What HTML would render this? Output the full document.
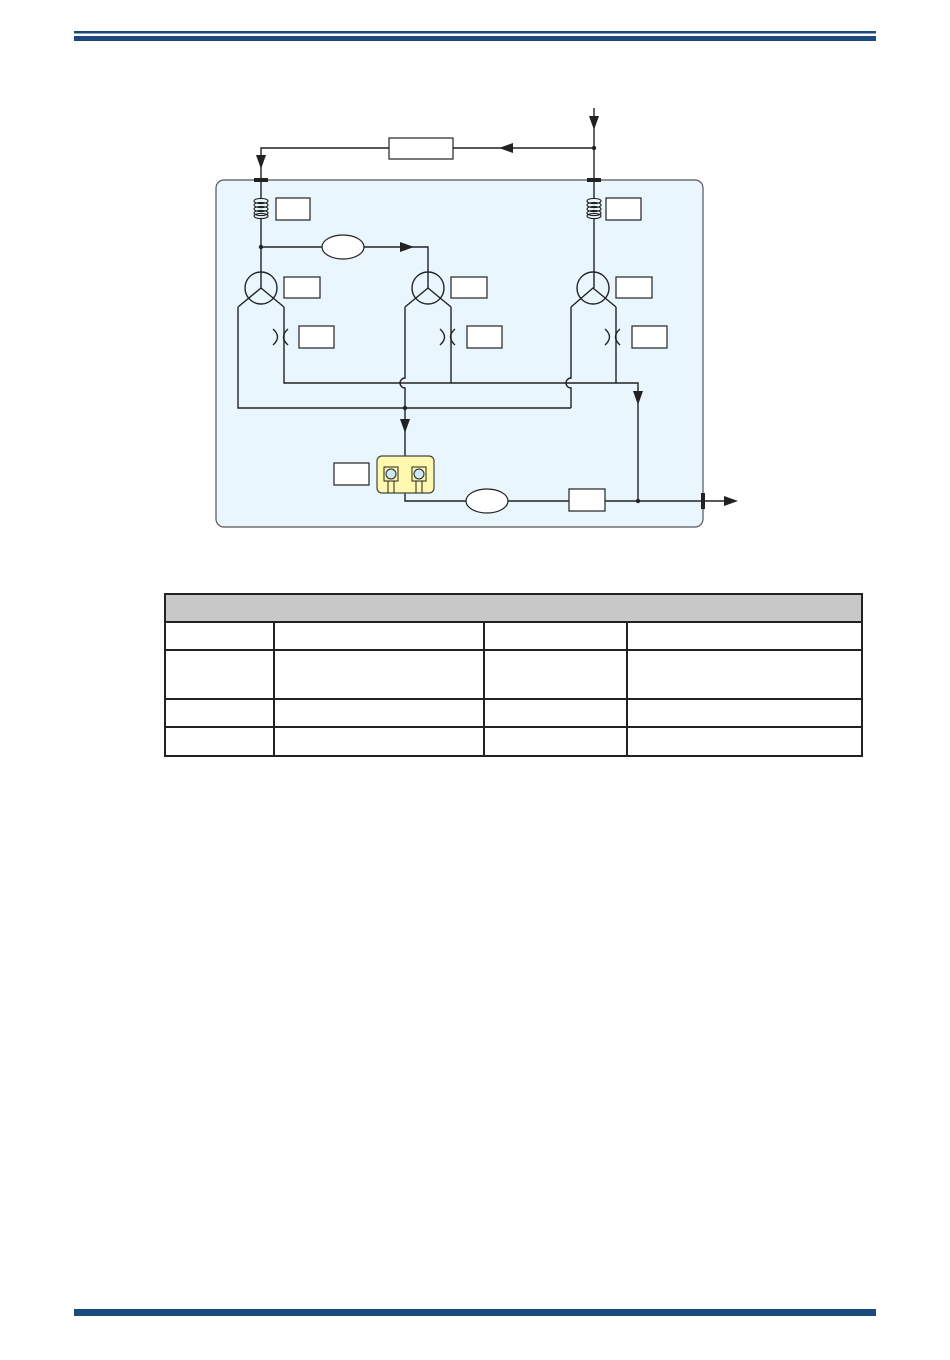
<!DOCTYPE html>
<html><head><style>body{margin:0;background:#fff}svg{display:block}</style></head>
<body>
<svg width="950" height="1360" viewBox="0 0 950 1360" xmlns="http://www.w3.org/2000/svg">
<rect x="74" y="31" width="802" height="2.5" fill="#1d4a7e"/>
<rect x="74" y="36" width="802" height="5" fill="#1d4a7e"/>
<rect x="74" y="1309" width="802" height="7" fill="#1d4a7e"/>

<rect x="216" y="180" width="487" height="347" rx="8" fill="#eaf6fd" stroke="#555" stroke-width="1.2"/>
<g fill="none" stroke="#222" stroke-width="1.4">
<path d="M594 108V180M594 148H261V180"/>
<path d="M261 180V198M261 218V288"/>
<path d="M594 180V198M594 218V288"/>
<path d="M261 247H428V288"/>
<circle cx="261" cy="288" r="16"/><circle cx="428" cy="288" r="16"/><circle cx="593" cy="288" r="16"/>
<path d="M238 307L261 288L284 307M238 307V408H405M284 307V383H638V501"/>
<path d="M405 307L428 288L451 307M451 307V383M405 307V378a5 5 0 0 0 0 10V408H571"/>
<path d="M571 307L593 288L616 307M616 307V383M571 307V378a5 5 0 0 0 0 10V408"/>
<path d="M405 408V456"/>
<path d="M405 493V501H725"/>
<path d="M273 329q9 8 0 16M288 329q-9 8 0 16"/>
<path d="M440 329q9 8 0 16M455 329q-9 8 0 16"/>
<path d="M605 329q9 8 0 16M620 329q-9 8 0 16"/>
</g>
<g fill="none" stroke="#222" stroke-width="1.1">
<ellipse cx="261" cy="201" rx="7" ry="2.6"/><ellipse cx="261" cy="205" rx="7" ry="2.6"/><ellipse cx="261" cy="209" rx="7" ry="2.6"/><ellipse cx="261" cy="213" rx="7" ry="2.6"/><ellipse cx="261" cy="216" rx="7" ry="2.6"/>
<ellipse cx="594" cy="201" rx="7" ry="2.6"/><ellipse cx="594" cy="205" rx="7" ry="2.6"/><ellipse cx="594" cy="209" rx="7" ry="2.6"/><ellipse cx="594" cy="213" rx="7" ry="2.6"/><ellipse cx="594" cy="216" rx="7" ry="2.6"/>
</g>
<g fill="#222">
<rect x="254" y="178" width="14" height="4"/><rect x="587" y="178" width="14" height="4"/>
<rect x="701" y="493" width="4" height="16"/>
<circle cx="594" cy="148" r="2.2"/><circle cx="261" cy="247" r="2.2"/><circle cx="405" cy="408" r="2.2"/><circle cx="638" cy="501" r="2.2"/>
<path d="M589 116h10l-5 14z"/>
<path d="M499 148l14-5v10z"/>
<path d="M256 155h10l-5 14z"/>
<path d="M414 247l-14-5v10z"/>
<path d="M633 391h10l-5 14z"/>
<path d="M400 419h10l-5 14z"/>
<path d="M738 501l-14-5v10z"/>
</g>
<g fill="#fff" stroke="#222" stroke-width="1.2">
<rect x="389" y="138" width="64" height="21"/>
<rect x="276" y="198" width="34" height="22"/>
<rect x="606" y="198" width="35" height="22"/>
<ellipse cx="343" cy="247" rx="21" ry="12"/>
<rect x="284" y="277" width="36" height="21"/>
<rect x="451" y="277" width="36" height="21"/>
<rect x="616" y="277" width="36" height="21"/>
<rect x="299" y="326" width="35" height="22"/>
<rect x="467" y="326" width="35" height="22"/>
<rect x="632" y="326" width="35" height="22"/>
<rect x="334" y="463" width="35" height="22"/>
<ellipse cx="487" cy="501" rx="21" ry="12"/>
<rect x="569" y="489" width="36" height="22"/>
</g>
<rect x="377" y="456" width="57" height="37" rx="5" fill="#fff9b0" stroke="#444" stroke-width="1.2"/>
<g stroke="#222" stroke-width="1" fill="none">
<rect x="384" y="467" width="14" height="14"/><rect x="412" y="467" width="14" height="14"/>
<path d="M388 481V493M394 481V493M416 481V493M422 481V493"/>
</g>
<circle cx="391" cy="474" r="5" fill="#cde9f7" stroke="#222"/>
<circle cx="419" cy="474" r="5" fill="#cde9f7" stroke="#222"/>

<rect x="165" y="594" width="697" height="28" fill="#c8c8c8"/>
<g stroke="#222" stroke-width="2" fill="none">
<rect x="165" y="594" width="697" height="162"/>
<path d="M165 622H862M165 650H862M165 699H862M165 727H862"/>
<path d="M274 622V756M484 622V756M627 622V756"/>
</g>
</svg>
</body></html>
